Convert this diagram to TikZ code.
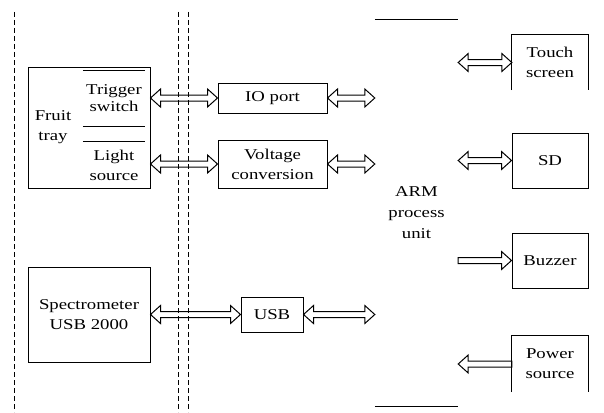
\documentclass[tikz,border=0pt]{standalone}
\usepackage{fontspec}
\setmainfont[FakeStretch=1.25]{Liberation Serif}
\usetikzlibrary{arrows.meta,positioning,calc}

\tikzset{
  blk/.style={draw, line width=1pt, align=center, inner sep=1pt},
  bare/.style={align=center, inner sep=1pt},
  edge/.style={line width=1pt},
  arrowline/.style={line width=1pt, line join=miter},
  partition/.style={dashed, dash pattern=on 5pt off 3pt, line width=0.9pt}
}

% hollow block arrow, head at #2 only
\newcommand{\oneway}[2]{%
  \draw[arrowline] let \p1=(#1), \p2=(#2), \n1={sign(\x2-\x1)} in
    (\x1,\y1+3pt) -- ({\x2-\n1*10pt},\y1+3pt) -- ({\x2-\n1*10pt},\y1+9pt) -- (\x2,\y1)
    -- ({\x2-\n1*10pt},\y1-9pt) -- ({\x2-\n1*10pt},\y1-3pt) -- (\x1,\y1-3pt) -- cycle;}
% hollow block arrow, heads at both ends
\newcommand{\bothway}[2]{%
  \draw[arrowline] let \p1=(#1), \p2=(#2), \n1={sign(\x2-\x1)} in
    (\x1,\y1) -- ({\x1+\n1*10pt},\y1+9pt) -- ({\x1+\n1*10pt},\y1+3pt)
    -- ({\x2-\n1*10pt},\y1+3pt) -- ({\x2-\n1*10pt},\y1+9pt) -- (\x2,\y1)
    -- ({\x2-\n1*10pt},\y1-9pt) -- ({\x2-\n1*10pt},\y1-3pt)
    -- ({\x1+\n1*10pt},\y1-3pt) -- ({\x1+\n1*10pt},\y1-9pt) -- cycle;}

\begin{document}
\begin{tikzpicture}[x=1pt, y=-1pt, font=\fontsize{15}{20}\selectfont]
\useasboundingbox (0,0) rectangle (604,412);

% Fruit tray with its two sensors
\node[blk, minimum width=122pt, minimum height=121pt] (fruit) at (89,127.5) {};
\node[bare] (fruittxt) at (53,127) {Fruit\\tray};
\node[bare, minimum width=62pt, minimum height=55pt, font=\fontsize{15}{17}\selectfont] (trig) at (114,98.5) {Trigger\\switch};
\node[bare, minimum width=62pt, minimum height=46pt] (light) at (114,165) {Light\\source};
\draw[edge] (trig.north west) -- (trig.north east)
            (trig.south west) -- (trig.south east)
            (light.north west) -- (light.north east);

% Spectrometer
\node[blk, minimum width=122pt, minimum height=95pt] (spec) at (89,314.5) {Spectrometer\\USB 2000};

% Interface blocks
\node[blk, minimum width=109pt, minimum height=30pt] (io) at (272.5,98) {IO port};
\node[blk, minimum width=109pt, minimum height=48pt] (volt) at (272.5,164) {Voltage\\conversion};
\node[blk, minimum width=62pt, minimum height=35pt] (usb) at (272,314.5) {USB};

% ARM process unit (only top and bottom edges)
\node[bare, minimum width=83pt, minimum height=386pt, font=\fontsize{15}{21}\selectfont] (arm) at (416.5,213) {ARM\\process\\unit};
\draw[edge] (arm.north west) -- (arm.north east)
            (arm.south west) -- (arm.south east);

% Peripherals
\node[bare, minimum width=76pt, minimum height=55pt] (touch) at (550,62.5) {Touch\\screen};
\node[blk, minimum width=76pt, minimum height=55pt] (sd) at (550,160.5) {SD};
\node[blk, minimum width=76pt, minimum height=55pt] (buzz) at (550,260.5) {Buzzer};
\node[bare, minimum width=76pt, minimum height=56pt] (power) at (550,364) {Power\\source};
\draw[edge] (touch.south west) -- (touch.north west) -- (touch.north east) -- (touch.south east);
\draw[edge] (power.south west) -- (power.north west) -- (power.north east) -- (power.south east);

% Connections
\bothway{fruit.east |- io}{io.west}
\bothway{fruit.east |- volt}{volt.west}
\bothway{spec.east |- usb}{usb.west}
\bothway{io.east}{arm.west |- io}
\bothway{volt.east}{arm.west |- volt}
\bothway{usb.east}{arm.west |- usb}
\bothway{arm.east |- touch}{touch.west}
\bothway{arm.east |- sd}{sd.west}
\oneway{arm.east |- buzz}{buzz.west}
\oneway{power.west}{arm.east |- power}

% Dashed partitions
\draw[partition] (14,12) -- (14,412);
\draw[partition] (178,12) -- (178,412);
\draw[partition] (188,12) -- (188,412);

\end{tikzpicture}
\end{document}
